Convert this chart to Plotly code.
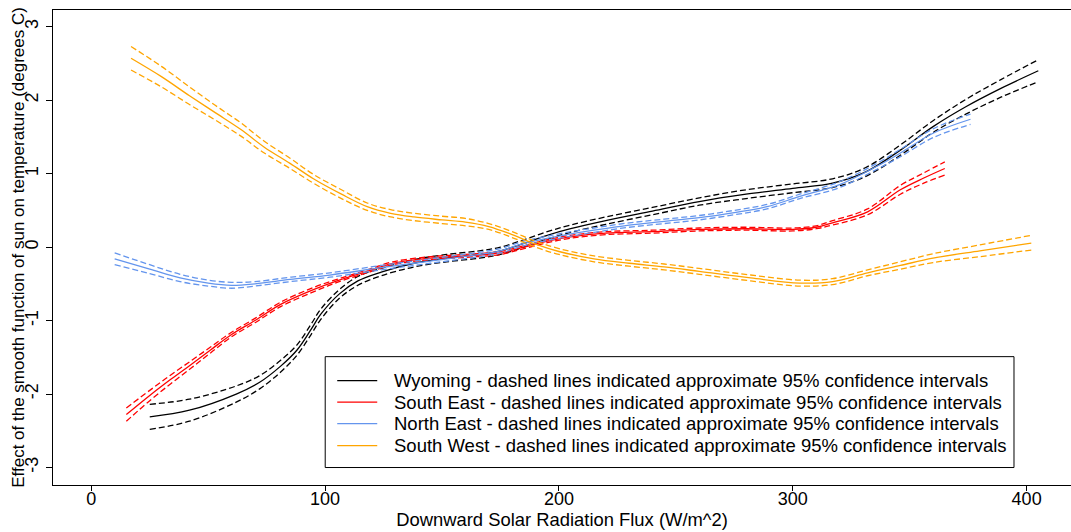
import plotly.graph_objects as go

# ---- Data ----
wy_x = [25, 42, 62, 72, 81, 88, 94, 98, 106, 114, 124, 138, 152, 166, 175, 185, 195, 205, 220, 240, 260, 280, 300, 317, 331, 346, 360, 374, 389, 405]
wy_fit = [-2.31, -2.22, -2.00, -1.84, -1.62, -1.40, -1.12, -0.92, -0.64, -0.46, -0.34, -0.22, -0.15, -0.10, -0.05, 0.05, 0.16, 0.25, 0.36, 0.49, 0.62, 0.72, 0.80, 0.87, 1.02, 1.32, 1.64, 1.91, 2.16, 2.40]
wy_up = [-2.14, -2.07, -1.89, -1.75, -1.54, -1.33, -1.05, -0.85, -0.58, -0.40, -0.29, -0.17, -0.10, -0.05, 0.00, 0.10, 0.21, 0.30, 0.41, 0.54, 0.67, 0.78, 0.86, 0.93, 1.08, 1.39, 1.72, 2.01, 2.28, 2.55]
wy_lo = [-2.48, -2.37, -2.11, -1.93, -1.70, -1.47, -1.19, -0.99, -0.70, -0.52, -0.39, -0.27, -0.20, -0.15, -0.10, 0.00, 0.11, 0.20, 0.31, 0.44, 0.57, 0.66, 0.74, 0.81, 0.96, 1.25, 1.56, 1.81, 2.04, 2.25]

se_x = [15, 25, 34, 43, 51, 60, 70, 81, 95, 106, 118, 129, 145, 160, 175, 185, 195, 205, 220, 240, 260, 280, 300, 310, 317, 332, 346, 356, 365]
se_fit = [-2.28, -2.02, -1.80, -1.59, -1.40, -1.19, -1.00, -0.78, -0.58, -0.45, -0.33, -0.22, -0.15, -0.12, -0.08, 0.00, 0.08, 0.14, 0.19, 0.21, 0.24, 0.25, 0.24, 0.27, 0.33, 0.48, 0.78, 0.94, 1.07]
se_up = [-2.19, -1.95, -1.74, -1.54, -1.36, -1.16, -0.97, -0.75, -0.55, -0.43, -0.31, -0.20, -0.13, -0.10, -0.06, 0.02, 0.10, 0.16, 0.21, 0.23, 0.26, 0.27, 0.26, 0.29, 0.36, 0.52, 0.84, 1.01, 1.16]
se_lo = [-2.37, -2.09, -1.86, -1.64, -1.44, -1.22, -1.03, -0.81, -0.61, -0.47, -0.35, -0.24, -0.17, -0.14, -0.10, -0.02, 0.06, 0.12, 0.17, 0.19, 0.22, 0.23, 0.22, 0.25, 0.30, 0.44, 0.72, 0.87, 0.98]

ne_x = [10, 25, 38, 50, 60, 70, 85, 102, 124, 145, 166, 175, 185, 200, 215, 230, 245, 260, 275, 289, 303, 320, 336, 346, 360, 376]
ne_fit = [-0.16, -0.30, -0.42, -0.49, -0.52, -0.50, -0.44, -0.38, -0.28, -0.19, -0.10, -0.05, 0.05, 0.15, 0.23, 0.30, 0.35, 0.40, 0.47, 0.55, 0.69, 0.85, 1.10, 1.28, 1.55, 1.74]
ne_up = [-0.08, -0.24, -0.37, -0.45, -0.48, -0.47, -0.41, -0.35, -0.25, -0.16, -0.07, -0.02, 0.08, 0.18, 0.26, 0.33, 0.38, 0.43, 0.50, 0.58, 0.72, 0.89, 1.14, 1.33, 1.61, 1.81]
ne_lo = [-0.24, -0.36, -0.47, -0.53, -0.56, -0.53, -0.47, -0.41, -0.31, -0.22, -0.13, -0.08, 0.02, 0.12, 0.20, 0.27, 0.32, 0.37, 0.44, 0.52, 0.66, 0.81, 1.06, 1.23, 1.49, 1.67]

sw_x = [17, 30, 42, 53, 64, 74, 85, 95, 107, 118, 128, 138, 150, 160, 170, 180, 190, 200, 215, 230, 245, 260, 282, 303, 317, 332, 346, 360, 380, 402]
sw_fit = [2.57, 2.32, 2.06, 1.83, 1.60, 1.36, 1.14, 0.93, 0.72, 0.55, 0.46, 0.41, 0.37, 0.34, 0.28, 0.17, 0.04, -0.06, -0.16, -0.22, -0.27, -0.33, -0.42, -0.49, -0.47, -0.35, -0.25, -0.15, -0.05, 0.055]
sw_up = [2.73, 2.46, 2.18, 1.93, 1.69, 1.44, 1.21, 0.99, 0.78, 0.60, 0.51, 0.46, 0.42, 0.39, 0.32, 0.21, 0.08, -0.02, -0.12, -0.18, -0.23, -0.29, -0.38, -0.45, -0.43, -0.31, -0.20, -0.09, 0.03, 0.16]
sw_lo = [2.41, 2.18, 1.94, 1.73, 1.51, 1.28, 1.07, 0.87, 0.66, 0.50, 0.41, 0.36, 0.32, 0.29, 0.24, 0.13, 0.00, -0.10, -0.20, -0.26, -0.31, -0.37, -0.46, -0.53, -0.51, -0.39, -0.30, -0.21, -0.13, -0.04]

series_names = [
    "Wyoming - dashed lines indicated approximate 95% confidence intervals",
    "South East - dashed lines indicated approximate 95% confidence intervals",
    "North East - dashed lines indicated approximate 95% confidence intervals",
    "South West - dashed lines indicated approximate 95% confidence intervals",
]
series_colors = ["#000000", "#FF0000", "#6495ED", "#FFA500"]

x_ticks = [0, 100, 200, 300, 400]
y_ticks = [-3, -2, -1, 0, 1, 2, 3]

FONT = "Liberation Sans, Arial, sans-serif"

series = [
    (wy_x, wy_fit, wy_up, wy_lo),
    (se_x, se_fit, se_up, se_lo),
    (ne_x, ne_fit, ne_up, ne_lo),
    (sw_x, sw_fit, sw_up, sw_lo),
]

fig = go.Figure()
for (xs, fit, up, lo), name, col in zip(series, series_names, series_colors):
    fig.add_trace(go.Scatter(x=xs, y=fit, mode="lines", name=name,
                             line=dict(color=col, width=1.3, shape="spline"),
                             showlegend=False))
    for band in (up, lo):
        fig.add_trace(go.Scatter(x=xs, y=band, mode="lines", showlegend=False,
                                 hoverinfo="skip",
                                 line=dict(color=col, width=1.3, dash="6px,3px", shape="spline")))

# ---- Legend box (R-style), drawn in paper coordinates ----
LEG_X0, LEG_X1 = 0.2674, 0.9440
LEG_Y0, LEG_Y1 = 0.0368, 0.2702
LEG_LINE_X0, LEG_LINE_X1 = 0.2792, 0.3185
LEG_TEXT_X = 0.3332
LEG_ROW_Y = [0.2198, 0.1745, 0.1293, 0.0831]

shapes = [dict(type="rect", xref="paper", yref="paper",
               x0=LEG_X0, x1=LEG_X1, y0=LEG_Y0, y1=LEG_Y1,
               line=dict(color="black", width=1), fillcolor="white", layer="above")]
annotations = []
for name, col, ry in zip(series_names, series_colors, LEG_ROW_Y):
    shapes.append(dict(type="line", xref="paper", yref="paper",
                       x0=LEG_LINE_X0, x1=LEG_LINE_X1, y0=ry, y1=ry,
                       line=dict(color=col, width=1.3), layer="above"))
    annotations.append(dict(text=name, xref="paper", yref="paper", x=LEG_TEXT_X, y=ry,
                            xanchor="left", yanchor="middle", showarrow=False,
                            font=dict(family=FONT, size=18.5, color="black")))

annotations.append(dict(text="Effect of the smooth function of sun on temperature (degrees C)",
                        xref="paper", yref="paper", x=-0.0341, y=0.5, textangle=-90,
                        xanchor="center", yanchor="middle", showarrow=False,
                        font=dict(family=FONT, size=17, color="black")))

fig.update_layout(
    width=1071, height=532,
    margin=dict(l=53, r=0, t=10, b=46.5),
    paper_bgcolor="white", plot_bgcolor="white",
    font=dict(family=FONT, size=18, color="black"),
    showlegend=False,
    shapes=shapes,
    annotations=annotations,
)

fig.update_xaxes(
    range=[-16.37, 418.98], tickmode="array", tickvals=x_ticks,
    ticktext=[str(v) for v in x_ticks],
    showgrid=False, zeroline=False,
    showline=True, linecolor="black", linewidth=1, mirror=True,
    ticks="outside", ticklen=5, tickcolor="black", tickwidth=1,
    ticklabelstandoff=-8,
    tickfont=dict(family=FONT, size=18, color="black"),
    title=dict(text="Downward Solar Radiation Flux (W/m^2)", standoff=0,
               font=dict(family=FONT, size=18.4, color="black")),
)
fig.update_yaxes(
    range=[-3.238, 3.227], tickmode="array", tickvals=y_ticks,
    ticktext=[str(v) for v in y_ticks],
    showgrid=False, zeroline=False,
    showline=True, linecolor="black", linewidth=1, mirror=False,
    ticks="outside", ticklen=6, tickcolor="black", tickwidth=1,
    ticklabelstandoff=1,
    tickangle=-90,
    tickfont=dict(family=FONT, size=18, color="black"),
)

fig.write_html("out.html")
